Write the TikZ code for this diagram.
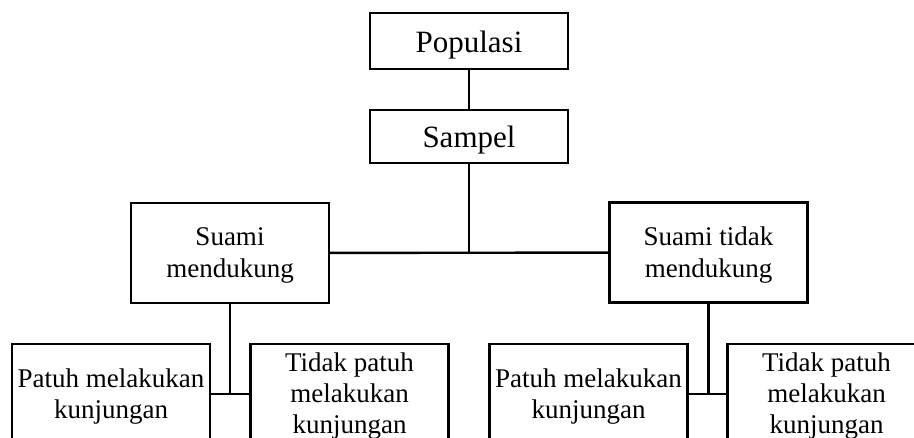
\documentclass[tikz,border=0pt]{standalone}
\usepackage{fontspec}
\setmainfont{Liberation Serif}
\newcommand{\firstup}{\rule{0pt}{23pt}}
\begin{document}
\begin{tikzpicture}[x=1pt,y=-1pt,
  box/.style={draw, line width=2.4pt, align=center, inner sep=0pt, minimum width=198pt},
  topbox/.style={box, font=\fontsize{31}{37}\selectfont},
  midbox/.style={box, minimum height=100pt, font=\fontsize{27}{32}\selectfont},
  lowbox/.style={box, minimum height=100pt, font=\fontsize{27}{31}\selectfont},
  link/.style={line width=2.4pt}]
\useasboundingbox (0,0) rectangle (914,438);
\clip (0,0) rectangle (914,438);
\node[topbox, minimum height=56pt, text height=23pt, text depth=0pt] (pop) at (469,41) {Populasi};
\node[topbox, minimum height=53pt, text height=23pt, text depth=0pt] (sam) at (469,136.5) {Sampel};
\node[midbox] (sm) at (230,253) {\firstup Suami\\mendukung};
\node[midbox] (stm) at (708.5,252.5) {\firstup Suami tidak\\mendukung};
\node[lowbox] (p1) at (111,394) {\firstup Patuh melakukan\\kunjungan};
\node[lowbox] (t1) at (349.5,394) {\firstup Tidak patuh\\melakukan\\kunjungan};
\node[lowbox] (p2) at (588.5,394) {\firstup Patuh melakukan\\kunjungan};
\node[lowbox] (t2) at (826.5,394) {\firstup Tidak patuh\\melakukan\\kunjungan};
\draw[link] (pop) -- (sam);
\draw[link] (sam) -- (sam |- sm);
\draw[link] (sm) -- (stm);
\draw[link] (p1) -- (t1);
\draw[link] (sm) -- (sm |- p1);
\draw[link] (p2) -- (t2);
\draw[link] (stm) -- (stm |- p2);
\end{tikzpicture}
\end{document}
